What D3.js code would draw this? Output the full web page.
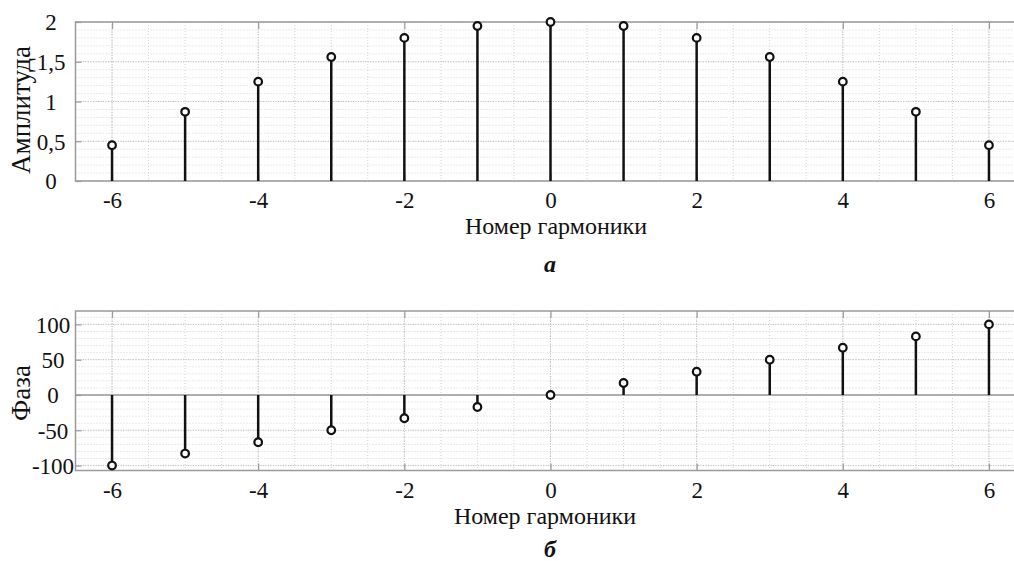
<!DOCTYPE html>
<html>
<head>
<meta charset="utf-8">
<script src="https://cdn.jsdelivr.net/npm/d3@7"></script>
<style>
  body { margin: 0; background: #fff; }
  svg { display: block; }
  .grid-minor { stroke: #d4d4d4; stroke-width: 1; stroke-dasharray: 1,2; }
  .grid-major { stroke: #bdbdbd; stroke-width: 1; stroke-dasharray: 1,1.5; }
  .frame { stroke: #9a9a9a; stroke-width: 1.5; fill: none; }
  .tick line { stroke: #9a9a9a; stroke-width: 1.2; }
  .stem { stroke: #111; stroke-width: 2.5; }
  .marker { stroke: #111; stroke-width: 2.2; fill: #fff; }
</style>
</head>
<body>
<svg id="chart" width="1014" height="561"></svg>
<script>
// data
const harmonics = [-6, -5, -4, -3, -2, -1, 0, 1, 2, 3, 4, 5, 6];
const amplitude = [0.45, 0.87, 1.25, 1.56, 1.80, 1.95, 2.00, 1.95, 1.80, 1.56, 1.25, 0.87, 0.45];
const phase = [-100, -83, -67, -50, -33, -17, 0, 17, 33, 50, 67, 83, 100];
const xTicks = [-6, -4, -2, 0, 2, 4, 6];
const ampTicks = [0, 0.5, 1, 1.5, 2];
const phaseTicks = [-100, -50, 0, 50, 100];

const serif = "'Liberation Serif'";
const svg = d3.select('#chart');
const commaFmt = v => String(v).replace('.', ',');

// set the font right on the text, attributes from d3 axis win otherwise
const serifText = (sel, size) => sel
  .style('font-family', serif)
  .style('font-size', size + 'px')
  .style('fill', '#111');

const plainAxis = sel => {
  sel.select('.domain').remove();
  sel.selectAll('text').call(serifText, 23);
};

// one stem panel
const drawPanel = (opts) => {
  const { top, bottom, yDomain, yTicks, yMinorStep, values, yLabel, yLabelY, labelX, xLabelX, caption, baseline } = opts;
  const x = d3.scaleLinear().domain([-6.5, 6.5]).range([75.5, 1025.5]);
  const y = d3.scaleLinear().domain(yDomain).range([bottom, top]);
  const g = svg.append('g');

  // minor grid
  const xMinor = d3.range(-6.5, 6.51, 0.5);
  const yMinor = d3.range(Math.ceil(yDomain[0] / yMinorStep) * yMinorStep, yDomain[1] + 1e-9, yMinorStep);
  g.selectAll('.gxm').data(xMinor).join('line')
    .attr('class', 'grid-minor')
    .attr('x1', d => x(d)).attr('x2', d => x(d))
    .attr('y1', top).attr('y2', bottom);
  g.selectAll('.gym').data(yMinor).join('line')
    .attr('class', 'grid-minor')
    .attr('x1', x.range()[0]).attr('x2', x.range()[1])
    .attr('y1', d => y(d)).attr('y2', d => y(d));

  // major grid
  g.selectAll('.gxM').data(xTicks).join('line')
    .attr('class', 'grid-major')
    .attr('x1', d => x(d)).attr('x2', d => x(d))
    .attr('y1', top).attr('y2', bottom);
  g.selectAll('.gyM').data(yTicks).join('line')
    .attr('class', 'grid-major')
    .attr('x1', x.range()[0]).attr('x2', x.range()[1])
    .attr('y1', d => y(d)).attr('y2', d => y(d));

  // box
  g.append('rect')
    .attr('class', 'frame')
    .attr('x', x.range()[0]).attr('y', top)
    .attr('width', x.range()[1] - x.range()[0]).attr('height', bottom - top);

  // axes with inward ticks
  const xAxis = g.append('g')
    .attr('transform', `translate(0,${bottom})`)
    .call(d3.axisBottom(x).tickValues(xTicks).tickSizeInner(-7).tickSizeOuter(0).tickFormat(d => d))
    .call(plainAxis);
  xAxis.selectAll('text').attr('y', 27).attr('dy', null);

  g.append('g')
    .attr('transform', `translate(0,${top})`)
    .call(d3.axisTop(x).tickValues(xTicks).tickSizeInner(-7).tickSizeOuter(0).tickFormat(''))
    .call(plainAxis);

  const yAxis = g.append('g')
    .attr('transform', `translate(${x.range()[0]},0)`)
    .call(d3.axisLeft(y).tickValues(yTicks).tickSizeInner(-6).tickSizeOuter(0).tickFormat(commaFmt))
    .call(plainAxis);
  yAxis.selectAll('text')
    .attr('x', labelX - x.range()[0]).attr('dy', '0.34em')
    .attr('text-anchor', 'middle');

  // stem baseline
  if (baseline) {
    g.append('line')
      .attr('class', 'frame')
      .attr('x1', x.range()[0]).attr('x2', x.range()[1])
      .attr('y1', y(0)).attr('y2', y(0));
  }

  // stems and markers
  g.selectAll('.stem').data(harmonics).join('line')
    .attr('class', 'stem')
    .attr('x1', d => x(d)).attr('x2', d => x(d))
    .attr('y1', y(0)).attr('y2', (d, i) => y(values[i]));
  g.selectAll('.marker').data(harmonics).join('circle')
    .attr('class', 'marker')
    .attr('cx', d => x(d)).attr('cy', (d, i) => y(values[i]))
    .attr('r', 3.8);

  // labels
  g.append('text')
    .attr('x', xLabelX).attr('y', bottom + 53)
    .attr('text-anchor', 'middle')
    .call(serifText, 24)
    .text('Номер гармоники');
  g.append('text')
    .attr('transform', `translate(30,${yLabelY}) rotate(-90)`)
    .attr('text-anchor', 'middle')
    .call(serifText, 27)
    .text(yLabel);
  g.append('text')
    .attr('x', 550).attr('y', caption.y)
    .attr('text-anchor', 'middle')
    .call(serifText, 24)
    .style('font-weight', 'bold')
    .style('font-style', 'italic')
    .text(caption.text);
};

drawPanel({
  top: 22, bottom: 181, yDomain: [0, 2], yTicks: ampTicks, yMinorStep: 0.1,
  values: amplitude, yLabel: 'Амплитуда', yLabelY: 110, labelX: 51, xLabelX: 556,
  caption: { text: 'а', y: 272 }, baseline: false
});

drawPanel({
  top: 311, bottom: 470.5, yDomain: [-107, 119], yTicks: phaseTicks, yMinorStep: 10,
  values: phase, yLabel: 'Фаза', yLabelY: 393, labelX: 53, xLabelX: 545,
  caption: { text: 'б', y: 557 }, baseline: true
});
</script>
</body>
</html>
